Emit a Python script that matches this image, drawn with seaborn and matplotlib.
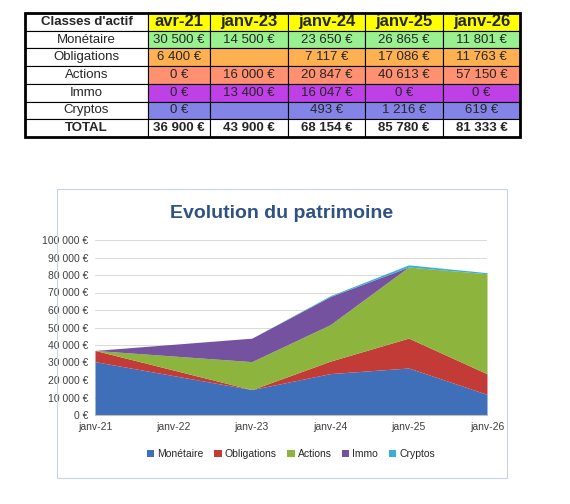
import matplotlib.pyplot as plt
import seaborn as sns
from matplotlib.patches import Rectangle

sns.set_style("white")
plt.rcParams['font.family'] = ['Liberation Sans', 'DejaVu Sans']

# table data
dates = ['avr-21', 'janv-23', 'janv-24', 'janv-25', 'janv-26']
classes = ['Monétaire', 'Obligations', 'Actions', 'Immo', 'Cryptos']
monetaire = [30500, 14500, 23650, 26865, 11801]
obligations = [6400, None, 7117, 17086, 11763]
actions = [0, 16000, 20847, 40613, 57150]
immo = [0, 13400, 16047, 0, 0]
cryptos = [0, None, 493, 1216, 619]
totals = [36900, 43900, 68154, 85780, 81333]
row_colors = ['#98F090', '#FFB050', '#FF9070', '#C040E8', '#8484E8']

# chart axis
x_labels = ['janv-21', 'janv-22', 'janv-23', 'janv-24', 'janv-25', 'janv-26']
x_pos = [0, 2, 3, 4, 5]  # date columns placed on the chart axis (no janv-22 data)
series_colors = ['#3F6FB8', '#C23B36', '#8DB43C', '#7452A0', '#3AAED8']


def fmt(v):
    if v is None:
        return ''
    return f'{v:,} €'.replace(',', ' ')


fig = plt.figure(figsize=(5.7, 5.04), dpi=100)

# ---- table ----
tax = fig.add_axes([25 / 570, 1 - 137 / 504, 495 / 570, 124 / 504])
tax.axis('off')
cells = [['Classes d\'actif'] + dates]
for name, vals in zip(classes, [monetaire, obligations, actions, immo, cryptos]):
    cells.append([name] + [fmt(v) for v in vals])
cells.append(['TOTAL'] + [fmt(v) for v in totals])
tbl = tax.table(cellText=cells, bbox=[0, 0, 1, 1], cellLoc='center')
tbl.auto_set_font_size(False)
widths = [123, 62, 78, 77, 78, 77]
for (r, c), cell in tbl.get_celld().items():
    cell.set_width(widths[c] / 495)
    cell.set_edgecolor('black')
    cell.set_linewidth(0.8)
    txt = cell.get_text()
    txt.set_fontsize(9.5)
    if r == 0:
        if c == 0:
            txt.set_fontweight('bold')
        else:
            cell.set_facecolor('#FFFF00')
            txt.set_fontweight('bold')
            txt.set_fontsize(12)
    elif r == len(cells) - 1:
        txt.set_fontweight('bold')
    elif c > 0:
        cell.set_facecolor(row_colors[r - 1])
tax.add_patch(Rectangle((0, 0), 1, 1, transform=tax.transAxes, fill=False, lw=2, ec='black', clip_on=False))

# ---- chart frame ----
fig.patches.append(Rectangle((57 / 570, 1 - 478 / 504), 450 / 570, 289 / 504,
                             transform=fig.transFigure, fill=False, ec='#C8D4E4', lw=0.8))
fig.text(282 / 570, 1 - 214 / 504, 'Evolution du patrimoine', ha='center', va='center',
         fontsize=14, fontweight='bold', color='#2F5284')

ax = fig.add_axes([95 / 570, 1 - 415 / 504, 392 / 570, 175 / 504])
stack = [monetaire,
         [v or 0 for v in obligations],
         actions,
         immo,
         [v or 0 for v in cryptos]]
ax.stackplot(x_pos, stack, colors=series_colors, labels=classes, lw=0)
ax.set_xlim(0, 5)
ax.set_ylim(0, 100000)
ax.set_yticks(range(0, 100001, 10000))
ax.set_yticklabels([fmt(v) for v in range(0, 100001, 10000)], fontsize=7.5, color='#404040')
ax.set_xticks(range(len(x_labels)))
ax.set_xticklabels(x_labels, fontsize=7.5, color='#404040')
ax.grid(axis='y', color='#D9D9D9', lw=0.7)
ax.set_axisbelow(True)
sns.despine(ax=ax, left=True)
ax.spines['bottom'].set_color('#BFBFBF')
ax.tick_params(length=0, pad=5)
ax.legend(loc='upper center', bbox_to_anchor=(0.5, -0.14), ncol=5, frameon=False,
          fontsize=7.5, handlelength=0.7, handleheight=0.7, columnspacing=1.0, handletextpad=0.3)

fig.savefig('out.png', dpi=100)
